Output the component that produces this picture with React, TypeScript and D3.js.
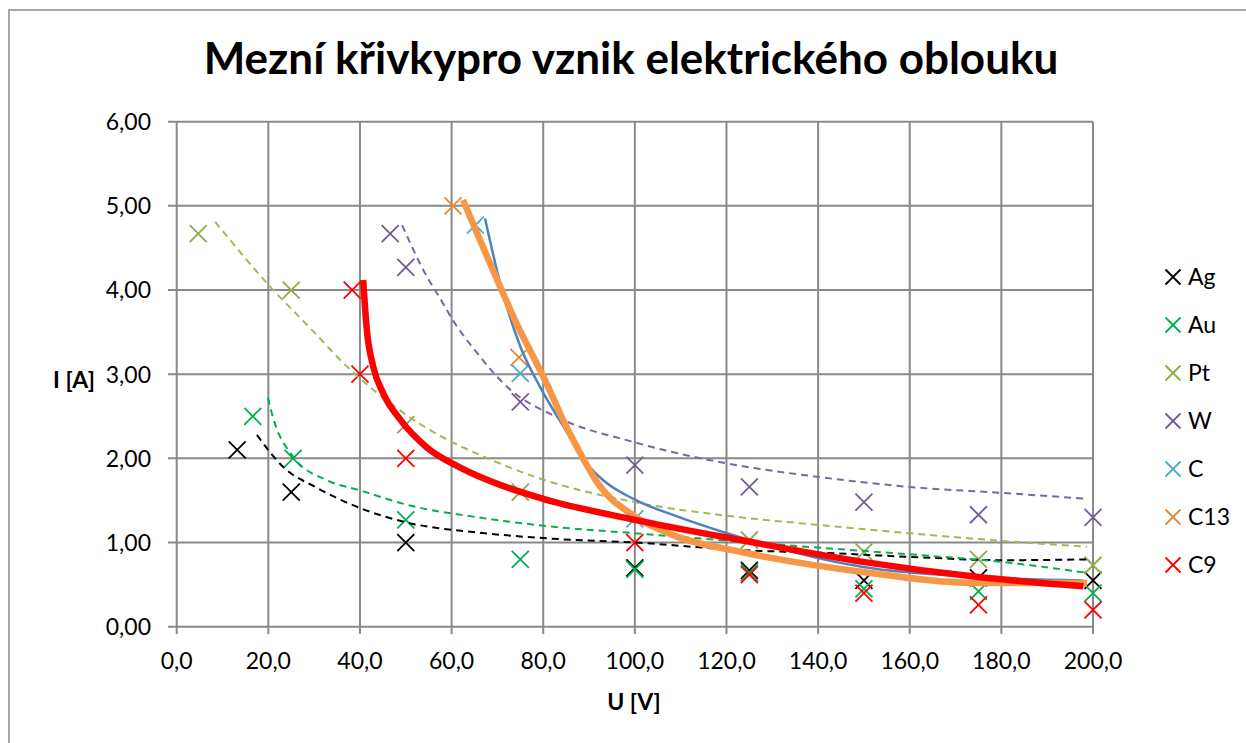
import React from "react";
import * as d3 from "d3";

// measured points [U (V), I (A)]
const agPoints = [[13.2, 2.1], [25, 1.6], [50, 1.0], [100, 0.7], [125, 0.67], [150, 0.55], [175, 0.58], [200, 0.55]];
const auPoints = [[16.6, 2.5], [25.4, 2.0], [50, 1.27], [75, 0.8], [100, 0.68], [125, 0.64], [150, 0.45], [175, 0.42], [200, 0.4]];
const ptPoints = [[4.7, 4.67], [25, 4.0], [50, 2.4], [75, 1.6], [125, 1.03], [150, 0.89], [175, 0.8], [200, 0.73]];
const wPoints = [[46.6, 4.67], [50, 4.27], [75, 2.67], [100, 1.92], [125, 1.66], [150, 1.48], [175, 1.33], [200, 1.3]];
const cPoints = [[65.2, 4.77], [75, 3.01], [100, 1.28]];
const c13Points = [[60.3, 5.0], [74.7, 3.2]];
const c9Points = [[38.3, 4.0], [40, 3.0], [50, 2.0], [100, 1.0], [125, 0.62], [150, 0.4], [175, 0.26], [200, 0.2]];

// trend lines
const agTrend = [[17.5, 2.28], [23.2, 1.9], [30.6, 1.65], [40, 1.41], [50.9, 1.23], [65.6, 1.12], [83.7, 1.04], [100, 1.0], [123, 0.91], [140, 0.88], [160, 0.83], [180, 0.79], [198.7, 0.8]];
const auTrend = [[19.9, 2.72], [21, 2.49], [25.4, 2.02], [32.8, 1.74], [40, 1.62], [50.9, 1.44], [65.6, 1.3], [83.7, 1.18], [100, 1.11], [123, 1.01], [140, 0.94], [160, 0.86], [180, 0.77], [198.7, 0.64]];
const ptTrend = [[8.4, 4.81], [20.4, 4.04], [29.1, 3.55], [37.2, 3.09], [47.2, 2.63], [58.1, 2.25], [66.2, 2.04], [79.3, 1.76], [100, 1.48], [123, 1.3], [140, 1.21], [160, 1.11], [180, 1.02], [198.7, 0.95]];
const wTrend = [[49.2, 4.77], [54.6, 4.16], [57.5, 3.9], [60.3, 3.64], [65.6, 3.25], [72.1, 2.85], [83, 2.49], [100, 2.19], [120.1, 1.94], [140, 1.78], [160, 1.66], [180, 1.59], [198.7, 1.52]];
const cTrend = [[67.3, 4.85], [70.6, 4.08], [75, 3.33], [79.3, 2.85], [84.4, 2.38], [89.5, 1.94], [93.1, 1.74], [100, 1.51], [109.2, 1.31], [120.1, 1.11], [149.8, 0.71], [175, 0.59], [197.9, 0.55]];
const c13Trend = [[62.5, 5.07], [70.6, 4.04], [74.2, 3.6], [79.3, 3.05], [81.5, 2.8], [83.7, 2.53], [88.1, 2.06], [91.7, 1.72], [100, 1.31], [109.2, 1.07], [123, 0.89], [149.8, 0.65], [175, 0.52], [198.7, 0.52]];
const c9Trend = [[40.7, 4.12], [41.5, 3.53], [42.9, 3.09], [45.1, 2.77], [48.8, 2.46], [54.6, 2.13], [61.9, 1.89], [68.4, 1.73], [80, 1.52], [100, 1.27], [123, 1.03], [149.8, 0.77], [175, 0.59], [197.9, 0.48]];

const xTicks = [0, 20, 40, 60, 80, 100, 120, 140, 160, 180, 200];
const yTicks = [0, 1, 2, 3, 4, 5, 6];

const series = [
  { name: "Ag", points: agPoints, trend: agTrend, marker: "#000000", line: "#000000", width: 2, dash: "7,5" },
  { name: "Au", points: auPoints, trend: auTrend, marker: "#00B050", line: "#00B050", width: 2, dash: "7,5" },
  { name: "Pt", points: ptPoints, trend: ptTrend, marker: "#8EA94E", line: "#9BBB59", width: 2, dash: "7,5" },
  { name: "W", points: wPoints, trend: wTrend, marker: "#755A98", line: "#8064A2", width: 2, dash: "7,5" },
  { name: "C", points: cPoints, trend: cTrend, marker: "#4BACC6", line: "#4F81BD", width: 2.5, dash: null },
  { name: "C13", points: c13Points, trend: c13Trend, marker: "#E0883C", line: "#F79646", width: 6.5, dash: null },
  { name: "C9", points: c9Points, trend: c9Trend, marker: "#FF0000", line: "#FF0000", width: 6.5, dash: null },
];

const x = d3.scaleLinear().domain([0, 200]).range([176.7, 1093]);
const y = d3.scaleLinear().domain([0, 6]).range([626.7, 121.7]);

const line = d3
  .line<number[]>()
  .x((d) => x(d[0]))
  .y((d) => y(d[1]))
  .curve(d3.curveMonotoneX);

const comma = (s: string) => s.replace(".", ",");
const fmtY = d3.format(".2f");
const fmtX = d3.format(".1f");

const Cross = ({ cx, cy, r, color }) => (
  <path
    d={`M${cx - r},${cy - r}L${cx + r},${cy + r}M${cx - r},${cy + r}L${cx + r},${cy - r}`}
    stroke={color}
    strokeWidth={1.8}
    fill="none"
  />
);

const App = () => {
  const font = "Lato, 'Open Sans', sans-serif";
  return (
    <svg
      width={1246}
      height={743}
      style={{ position: "absolute", left: 0, top: 0, background: "#fff" }}
      fontFamily={font}
    >
      <rect x={9} y={10} width={1260} height={760} fill="#fff" stroke="#8c8c8c" strokeWidth={1.5} />
      <text x={631} y={74} textAnchor="middle" fontSize={44} fontWeight="bold">
        Mezní křivkypro vznik elektrického oblouku
      </text>

      {/* grid */}
      {yTicks.map((t) => (
        <line key={"gy" + t} x1={168} x2={x(200)} y1={y(t)} y2={y(t)} stroke="#898989" strokeWidth={2} />
      ))}
      {xTicks.map((t) => (
        <line key={"gx" + t} x1={x(t)} x2={x(t)} y1={y(6)} y2={634} stroke="#898989" strokeWidth={2} />
      ))}

      {yTicks.map((t) => (
        <text key={"ty" + t} x={151} y={y(t) + 8.3} textAnchor="end" fontSize={23}>
          {comma(fmtY(t))}
        </text>
      ))}
      {xTicks.map((t) => (
        <text key={"tx" + t} x={x(t)} y={669} textAnchor="middle" fontSize={23}>
          {comma(fmtX(t))}
        </text>
      ))}

      <text x={634} y={710} textAnchor="middle" fontSize={23} fontWeight="bold">
        U [V]
      </text>
      <text x={74} y={388} textAnchor="middle" fontSize={23} fontWeight="bold">
        I [A]
      </text>

      {/* markers */}
      {series.map((s) =>
        s.points.map((p, i) => (
          <Cross key={s.name + i} cx={x(p[0])} cy={y(p[1])} r={8.5} color={s.marker} />
        ))
      )}

      {/* trend lines */}
      {series.map((s) => (
        <path
          key={"t" + s.name}
          d={line(s.trend) || ""}
          fill="none"
          stroke={s.line}
          strokeWidth={s.width}
          strokeDasharray={s.dash || undefined}
        />
      ))}

      {/* legend */}
      {series.map((s, i) => (
        <g key={"l" + s.name} transform={`translate(1173,${277 + i * 48})`}>
          <Cross cx={0} cy={0} r={7.5} color={s.marker} />
          <text x={15} y={8} fontSize={23}>
            {s.name}
          </text>
        </g>
      ))}
    </svg>
  );
};

export default App;
